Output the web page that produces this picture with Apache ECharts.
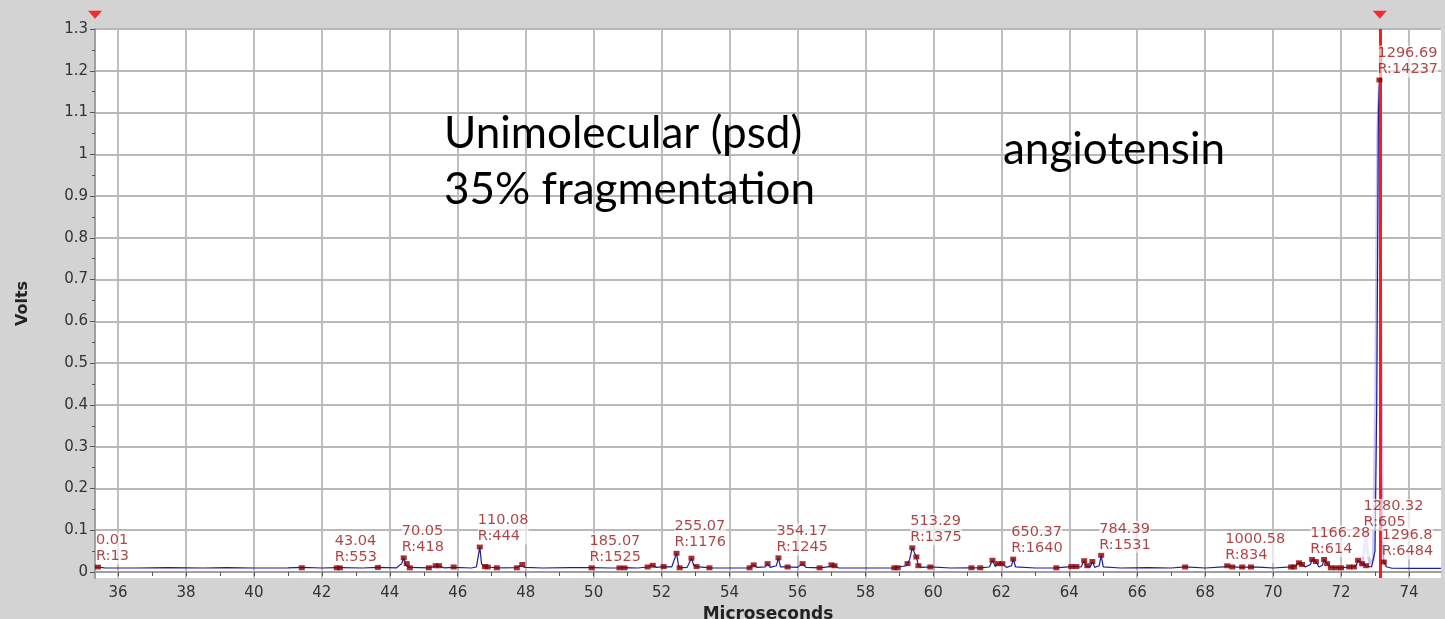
<!DOCTYPE html>
<html>
<head>
<meta charset="utf-8">
<title>Unimolecular (psd) angiotensin</title>
<script src="https://cdn.jsdelivr.net/npm/echarts@6/dist/echarts.min.js"></script>
<style>
    html, body { margin: 0; padding: 0; background: #d3d3d3; }
    #chart { width: 1445px; height: 619px; }
</style>
</head>
<body>
<div id="chart"></div>
<script>
/* 谱图数据 (microseconds, volts) */
const traceX = [35.32, 35.41, 35.6, 36.5, 37.5, 38.5, 39.2, 40.0, 41.0, 41.41, 42.0, 42.44, 42.53, 43.2, 43.65,
    44.2, 44.35, 44.41, 44.47, 44.5, 44.56, 44.59, 45.15, 45.35, 45.45, 45.6, 45.88, 46.4, 46.55, 46.62,
    46.65, 46.7, 46.74, 46.8, 46.88, 47.15, 47.74, 47.85, 47.9, 47.98, 48.5, 49.3, 49.94, 50.5, 50.76,
    50.91, 51.3, 51.59, 51.74, 51.85, 52.06, 52.3, 52.44, 52.5, 52.53, 52.75, 52.88, 52.95, 53.03, 53.41,
    54.0, 54.59, 54.71, 54.82, 55.05, 55.12, 55.2, 55.38, 55.44, 55.5, 55.71, 56.0, 56.15, 56.25, 56.65,
    56.95, 57.0, 57.09, 57.2, 58.0, 58.85, 59.2, 59.24, 59.3, 59.38, 59.45, 59.5, 59.56, 59.65, 59.91,
    60.5, 61.12, 61.38, 61.65, 61.74, 61.82, 61.9, 62.03, 62.15, 62.3, 62.35, 62.42, 63.0, 63.62, 64.06,
    64.21, 64.35, 64.44, 64.5, 64.53, 64.62, 64.68, 64.75, 64.88, 64.94, 65.0, 65.5, 66.3, 67.0, 67.41,
    68.0, 68.55, 68.65, 68.8, 69.09, 69.35, 69.7, 70.0, 70.53, 70.65, 70.76, 70.85, 70.95, 71.1, 71.15,
    71.26, 71.35, 71.45, 71.5, 71.59, 71.7, 72.0, 72.24, 72.38, 72.45, 72.5, 72.62, 72.74, 72.9, 73.0,
    73.05, 73.1, 73.13, 73.16, 73.2, 73.26, 73.35, 73.5, 74.2, 74.94];
const traceY = [0.011, 0.012, 0.010, 0.0095, 0.0105, 0.0095, 0.0105, 0.0095, 0.010, 0.011, 0.0095, 0.0105, 0.0105, 0.0095, 0.011,
    0.010, 0.020, 0.034, 0.016, 0.020, 0.011, 0.010, 0.010, 0.014, 0.014, 0.010, 0.011, 0.0095, 0.012, 0.045,
    0.060, 0.020, 0.015, 0.013, 0.012, 0.010, 0.0105, 0.015, 0.018, 0.011, 0.0095, 0.0105, 0.0105, 0.0095, 0.010,
    0.0105, 0.0095, 0.012, 0.016, 0.011, 0.013, 0.012, 0.045, 0.015, 0.010, 0.011, 0.033, 0.015, 0.013, 0.010,
    0.0095, 0.010, 0.017, 0.011, 0.012, 0.020, 0.011, 0.015, 0.034, 0.012, 0.012, 0.011, 0.020, 0.011, 0.010,
    0.013, 0.017, 0.015, 0.010, 0.0095, 0.010, 0.015, 0.020, 0.030, 0.058, 0.045, 0.036, 0.015, 0.011, 0.012,
    0.0095, 0.010, 0.010, 0.012, 0.028, 0.013, 0.020, 0.020, 0.011, 0.015, 0.031, 0.012, 0.0095, 0.010, 0.013,
    0.013, 0.012, 0.027, 0.014, 0.015, 0.012, 0.025, 0.011, 0.015, 0.040, 0.012, 0.0095, 0.0105, 0.0095, 0.012,
    0.0095, 0.012, 0.015, 0.012, 0.011, 0.012, 0.011, 0.0095, 0.012, 0.014, 0.022, 0.018, 0.012, 0.018, 0.030,
    0.025, 0.012, 0.016, 0.030, 0.020, 0.011, 0.010, 0.012, 0.012, 0.016, 0.028, 0.020, 0.015, 0.012, 0.050,
    0.400, 1.100, 1.180, 0.600, 0.080, 0.024, 0.012, 0.009, 0.0085, 0.0085];

// 母离子附近的淡色叠加谱线
const overlayX = [72.6, 72.68, 72.72, 72.78, 72.85, 72.95, 73.02, 73.08, 73.13, 73.18, 73.22, 73.3];
const overlayY = [0.012, 0.05, 0.093, 0.05, 0.02, 0.03, 0.4, 1.05, 1.17, 0.5, 0.05, 0.012];

// 未标注的峰位标记
const pickX = [41.41, 42.53, 43.65, 44.5, 44.59, 45.15, 45.35, 45.45, 45.88, 46.8, 46.88, 47.15, 47.74, 47.9,
    50.76, 50.91, 51.59, 51.74, 52.06, 52.53, 52.88, 53.03, 53.41, 54.59, 54.71, 55.12, 55.71, 56.15, 56.65,
    57.0, 57.09, 58.85, 58.95, 59.24, 59.5, 59.56, 59.91, 61.12, 61.38, 61.74, 61.9, 62.03, 63.62, 64.06,
    64.21, 64.44, 64.53, 64.68, 67.41, 68.8, 69.09, 69.35, 70.53, 70.62, 70.76, 70.85, 71.26, 71.5, 71.59,
    71.7, 71.85, 72.0, 72.24, 72.38, 72.5, 72.62, 72.74];
const pickY = [0.01, 0.01, 0.011, 0.02, 0.01, 0.01, 0.015, 0.015, 0.012, 0.013, 0.012, 0.01, 0.01, 0.018,
    0.01, 0.01, 0.012, 0.016, 0.013, 0.01, 0.033, 0.013, 0.01, 0.01, 0.017, 0.02, 0.012, 0.02, 0.01,
    0.017, 0.015, 0.01, 0.01, 0.02, 0.036, 0.015, 0.012, 0.01, 0.01, 0.028, 0.02, 0.02, 0.01, 0.013,
    0.013, 0.027, 0.015, 0.025, 0.012, 0.012, 0.012, 0.012, 0.012, 0.012, 0.022, 0.018, 0.025, 0.03, 0.02,
    0.01, 0.01, 0.01, 0.012, 0.012, 0.028, 0.02, 0.015];

// 已标注的峰 (质量数, 分辨率)
const peakX = [35.41, 42.44, 44.41, 46.65, 49.94, 52.44, 55.44, 59.38, 62.35, 64.94, 68.65, 71.15, 73.26, 73.13];
const peakY = [0.012, 0.01, 0.034, 0.06, 0.01, 0.045, 0.034, 0.058, 0.031, 0.04, 0.015, 0.03, 0.024, 1.178];
const peakMass = ['0.01', '43.04', '70.05', '110.08', '185.07', '255.07', '354.17', '513.29', '650.37',
    '784.39', '1000.58', '1166.28', '1296.8', '1296.69'];
const peakRes = ['13', '553', '418', '444', '1525', '1176', '1245', '1375', '1640', '1531', '834', '614',
    '6484', '14237'];

// 叠加谱线上的标注峰
const ghostX = [72.72];
const ghostY = [0.093];
const ghostMass = ['1280.32'];
const ghostRes = ['605'];

// 游标位置
const cursorX = [35.323, 73.14];

// 坐标轴刻度
const xTicks = [36, 38, 40, 42, 44, 46, 48, 50, 52, 54, 56, 58, 60, 62, 64, 66, 68, 70, 72, 74];
const xMinorTicks = [37, 39, 41, 43, 45, 47, 49, 51, 53, 55, 57, 59, 61, 63, 65, 67, 69, 71, 73];
const yTicks = [0, 0.1, 0.2, 0.3, 0.4, 0.5, 0.6, 0.7, 0.8, 0.9, 1, 1.1, 1.2, 1.3];
const yMinorTicks = [0.05, 0.15, 0.25, 0.35, 0.45, 0.55, 0.65, 0.75, 0.85, 0.95, 1.05, 1.15, 1.25];

const zip = (xs, ys) => xs.map((x, i) => [x, ys[i]]);
const labelled = (xs, ys, mass, res) => xs.map((x, i) => ({ value: [x, ys[i]], mass: mass[i], res: res[i] }));

const axisFont = { fontFamily: 'DejaVu Sans', fontSize: 15, color: '#333' };
const peakLabel = {
    show: true,
    position: [1, 0],
    align: 'left',
    verticalAlign: 'bottom',
    fontFamily: 'DejaVu Sans',
    fontSize: 14.5,
    lineHeight: 16,
    color: '#981515',
    backgroundColor: 'rgba(255,255,255,0.78)',
    formatter: p => p.data.mass + '\nR:' + p.data.res
};

const chart = echarts.init(document.getElementById('chart'));
chart.setOption({
    animation: false,
    backgroundColor: '#d3d3d3',
    grid: {
        left: 95, right: 4, top: 29, bottom: 41,
        containLabel: false, outerBoundsMode: 'none',
        show: true, backgroundColor: '#ffffff', borderWidth: 0
    },
    xAxis: [
        {
            type: 'value', min: 35.323, max: 74.942,
            name: 'Microseconds', nameLocation: 'middle', nameGap: 17,
            nameTextStyle: { fontFamily: 'DejaVu Sans', fontWeight: 'bold', fontSize: 17, color: '#222' },
            axisLine: { show: true, lineStyle: { color: '#a0a0a0', width: 2 } },
            axisTick: { show: true, length: 4, customValues: xTicks, lineStyle: { color: '#555' } },
            axisLabel: Object.assign({ margin: 8, customValues: xTicks }, axisFont),
            splitLine: { show: true, lineStyle: { color: '#b8b8b8', width: 1.8 } }
        },
        {
            type: 'value', min: 35.323, max: 74.942, position: 'bottom',
            axisLine: { show: false },
            axisTick: { show: true, length: 4, customValues: xMinorTicks, lineStyle: { color: '#555' } },
            axisLabel: { show: false },
            splitLine: { show: false }
        }
    ],
    yAxis: [
        {
            type: 'value', min: -0.0144, max: 1.3,
            name: 'Volts', nameLocation: 'middle', nameGap: 64, nameRotate: 90,
            nameTextStyle: { fontFamily: 'DejaVu Sans', fontWeight: 'bold', fontSize: 16, color: '#222' },
            axisLine: { show: true, lineStyle: { color: '#a0a0a0', width: 2 } },
            axisTick: { show: true, length: 5, customValues: yTicks, lineStyle: { color: '#555' } },
            axisLabel: Object.assign({ margin: 7, customValues: yTicks }, axisFont),
            splitLine: { show: true, lineStyle: { color: '#b8b8b8', width: 1.8 } }
        },
        {
            type: 'value', min: -0.0144, max: 1.3, position: 'left',
            axisLine: { show: false },
            axisTick: { show: true, length: 3, customValues: yMinorTicks, lineStyle: { color: '#555' } },
            axisLabel: { show: false },
            splitLine: { show: false }
        }
    ],
    graphic: [
        {
            type: 'text', left: 444, top: 106, z: 10,
            style: { text: 'Unimolecular (psd)\n35% fragmentation', font: '44px Lato', fill: '#000', lineHeight: 56 }
        },
        {
            type: 'text', left: 1003, top: 122, z: 10,
            style: { text: 'angiotensin', font: '44px Lato', fill: '#000', lineHeight: 56 }
        }
    ],
    series: [
        {
            type: 'line', z: 2, showSymbol: false, silent: true,
            data: zip(overlayX, overlayY),
            lineStyle: { color: 'rgba(150,150,235,0.5)', width: 3 }
        },
        {
            type: 'line', z: 3, showSymbol: false, silent: true,
            data: zip(traceX, traceY),
            lineStyle: { color: '#1c1ca0', width: 1.2 },
            markLine: {
                silent: true, symbol: ['none', 'none'], label: { show: false },
                lineStyle: { color: '#ff1a1a', width: 3, type: 'solid' },
                data: cursorX.map(v => ({ xAxis: v }))
            }
        },
        {
            type: 'scatter', z: 4, silent: true,
            symbol: 'rect', symbolSize: [6, 5],
            itemStyle: { color: '#8b0000' },
            data: zip(pickX, pickY)
        },
        {
            type: 'scatter', z: 5, silent: true,
            symbol: 'rect', symbolSize: [6, 5],
            itemStyle: { color: 'rgba(220,150,150,0.5)' },
            label: peakLabel,
            data: labelled(ghostX, ghostY, ghostMass, ghostRes)
        },
        {
            type: 'scatter', z: 5, silent: true,
            symbol: 'rect', symbolSize: [6, 5],
            itemStyle: { color: '#8b0000' },
            label: peakLabel,
            data: labelled(peakX, peakY, peakMass, peakRes)
        },
        {
            type: 'scatter', z: 6, silent: true, clip: false,
            symbol: 'triangle', symbolRotate: 180, symbolSize: [14, 8],
            itemStyle: { color: '#ff0000' },
            data: cursorX.map(v => [v, 1.334])
        }
    ]
});
</script>
</body>
</html>
